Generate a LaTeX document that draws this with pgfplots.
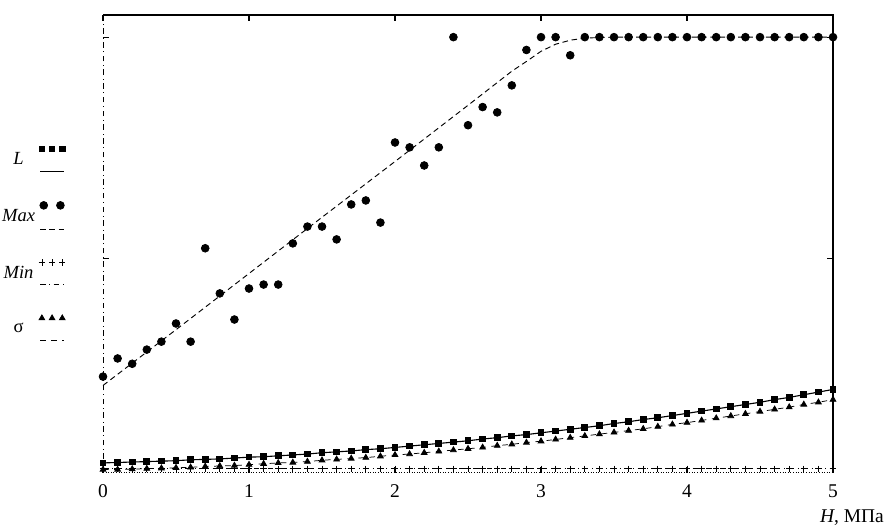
\documentclass[border=0pt]{standalone}
\usepackage{fontspec}
\setmainfont{Liberation Serif}
\usepackage{pgfplots}
\pgfplotsset{compat=1.18}

\pgfplotsset{
  twolegend/.style={legend image code/.code={
      \draw[##1, mark=none] (0pt,-6pt) -- (13pt,-6pt);
      \draw[##1, only marks, mark options={solid}] plot coordinates {(1pt,6pt) (6.5pt,6pt) (12pt,6pt)};
  }},
  maxlegend/.style={legend image code/.code={
      \draw[##1, mark=none] (0pt,-7pt) -- (13pt,-7pt);
      \draw[##1, only marks, mark options={solid}] plot coordinates {(2pt,6pt) (11pt,6pt)};
  }},
}

\begin{document}
\begin{tikzpicture}
\begin{axis}[
    width=394pt, height=247pt,
    scale only axis,
    xmin=0, xmax=5,
    ymin=0.016, ymax=1.05,
    xtick={0,1,2,3,4,5},
    ytick={0.5,1},
    yticklabels={},
    major tick length=3pt,
    tick style={black, line width=0.6pt},
    axis line style={draw=none},
    /pgf/number format/assume math mode=true,
    xticklabel style={font=\fontsize{10.5}{12}\selectfont, yshift=-3pt},
    xlabel={\textit{H}, МПа},
    xlabel style={at={(axis description cs:1,0)}, anchor=north east,
      xshift=28.6pt, yshift=-19pt, inner sep=1pt, font=\fontsize{10.5}{12}\selectfont},
    legend style={draw=none, fill=none, at={(axis description cs:-0.051,0.714)},
      anchor=north east, row sep=16pt, column sep=0pt, font=\fontsize{10}{12}\selectfont,
      legend cell align=center, inner sep=0pt,
      nodes={inner sep=2pt}},
    legend plot pos=right,
    clip=false,
]
% fitted curve through Max
\addplot[black, densely dashed, line width=0.5pt, forget plot] coordinates {
(0,0.213) (0.5,0.339) (1,0.466) (1.5,0.593) (2,0.719) (2.5,0.846)
(2.8,0.923) (2.9,0.945) (3.0,0.968) (3.1,0.984) (3.2,0.993) (3.3,0.998)
(3.5,1.0) (4,1.0) (4.5,1.0) (5,1.0)
};

% L
\addplot[black, line width=0.6pt, mark=square*, mark size=1.5pt, mark options={solid}, twolegend] coordinates {
(0.0,0.038) (0.1,0.039) (0.2,0.040) (0.3,0.041) (0.4,0.042) (0.5,0.043)
(0.6,0.045) (0.7,0.046) (0.8,0.047) (0.9,0.049) (1.0,0.051) (1.1,0.052)
(1.2,0.054) (1.3,0.056) (1.4,0.058) (1.5,0.061) (1.6,0.063) (1.7,0.065)
(1.8,0.068) (1.9,0.070) (2.0,0.073) (2.1,0.076) (2.2,0.079) (2.3,0.082)
(2.4,0.085) (2.5,0.088) (2.6,0.092) (2.7,0.095) (2.8,0.099) (2.9,0.102)
(3.0,0.106) (3.1,0.110) (3.2,0.114) (3.3,0.118) (3.4,0.122) (3.5,0.127)
(3.6,0.131) (3.7,0.136) (3.8,0.140) (3.9,0.145) (4.0,0.150) (4.1,0.155)
(4.2,0.160) (4.3,0.165) (4.4,0.170) (4.5,0.175) (4.6,0.181) (4.7,0.186)
(4.8,0.192) (4.9,0.198) (5.0,0.204)
};
\addlegendentry{\textit{L}}

% Max
\addplot[black, thin, densely dashed, only marks, mark=*, mark size=2.1pt, mark options={solid}, maxlegend] coordinates {
(0.0,0.233) (0.1,0.274) (0.2,0.262) (0.3,0.294) (0.4,0.312) (0.5,0.353)
(0.6,0.312) (0.7,0.523) (0.8,0.421) (0.9,0.362) (1.0,0.432) (1.1,0.441)
(1.2,0.441) (1.3,0.534) (1.4,0.572) (1.5,0.572) (1.6,0.543) (1.7,0.622)
(1.8,0.631) (1.9,0.581) (2.0,0.762) (2.1,0.751) (2.2,0.710) (2.3,0.751)
(2.4,1.000) (2.5,0.801) (2.6,0.842) (2.7,0.830) (2.8,0.891) (2.9,0.971)
(3.0,1.000) (3.1,1.000) (3.2,0.959) (3.3,1.000) (3.4,1.000) (3.5,1.000)
(3.6,1.000) (3.7,1.000) (3.8,1.000) (3.9,1.000) (4.0,1.000) (4.1,1.000)
(4.2,1.000) (4.3,1.000) (4.4,1.000) (4.5,1.000) (4.6,1.000) (4.7,1.000)
(4.8,1.000) (4.9,1.000) (5.0,1.000)
};
\addlegendentry{\textit{Max}}

% Min
\addplot[black, thin, dash dot, mark=+, mark size=1.7pt, mark options={solid}, twolegend] coordinates {
(0.0,0.025) (0.1,0.025) (0.2,0.025) (0.3,0.025) (0.4,0.025) (0.5,0.025)
(0.6,0.025) (0.7,0.025) (0.8,0.025) (0.9,0.025) (1.0,0.025) (1.1,0.025)
(1.2,0.025) (1.3,0.025) (1.4,0.025) (1.5,0.025) (1.6,0.025) (1.7,0.025)
(1.8,0.025) (1.9,0.025) (2.0,0.025) (2.1,0.025) (2.2,0.025) (2.3,0.025)
(2.4,0.025) (2.5,0.025) (2.6,0.025) (2.7,0.025) (2.8,0.025) (2.9,0.025)
(3.0,0.025) (3.1,0.025) (3.2,0.025) (3.3,0.025) (3.4,0.025) (3.5,0.025)
(3.6,0.025) (3.7,0.025) (3.8,0.025) (3.9,0.025) (4.0,0.025) (4.1,0.025)
(4.2,0.025) (4.3,0.025) (4.4,0.025) (4.5,0.025) (4.6,0.025) (4.7,0.025)
(4.8,0.025) (4.9,0.025) (5.0,0.025)
};
\addlegendentry{\textit{Min}}

% sigma
\addplot[black, thin, dashed, mark=triangle*, mark size=1.8pt, mark options={solid}, twolegend] coordinates {
(0.0,0.023) (0.1,0.023) (0.2,0.024) (0.3,0.025) (0.4,0.026) (0.5,0.027)
(0.6,0.028) (0.7,0.030) (0.8,0.031) (0.9,0.032) (1.0,0.034) (1.1,0.036)
(1.2,0.038) (1.3,0.039) (1.4,0.041) (1.5,0.044) (1.6,0.046) (1.7,0.048)
(1.8,0.050) (1.9,0.053) (2.0,0.056) (2.1,0.058) (2.2,0.061) (2.3,0.064)
(2.4,0.067) (2.5,0.070) (2.6,0.073) (2.7,0.077) (2.8,0.080) (2.9,0.084)
(3.0,0.087) (3.1,0.091) (3.2,0.095) (3.3,0.099) (3.4,0.103) (3.5,0.107)
(3.6,0.111) (3.7,0.115) (3.8,0.120) (3.9,0.125) (4.0,0.129) (4.1,0.134)
(4.2,0.139) (4.3,0.144) (4.4,0.149) (4.5,0.154) (4.6,0.159) (4.7,0.164)
(4.8,0.170) (4.9,0.175) (5.0,0.181)
};
\addlegendentry{σ}

% frame: solid top and right, dash-dot left, dotted bottom
\draw[black, line width=0.8pt] (rel axis cs:0,1) -- (rel axis cs:1,1) -- (rel axis cs:1,0);
\draw[black, thin, dash dot] (rel axis cs:0,0) -- (rel axis cs:0,1);
\draw[black, thin, densely dotted] (rel axis cs:0,0) -- (rel axis cs:1,0);
\coordinate (bl) at (rel axis cs:0,0);
\coordinate (tr) at (rel axis cs:1,1);
\end{axis}
\pgfresetboundingbox
\path (bl) ++(-55.6pt,-28.6pt) coordinate (bba);
\path (tr) ++(28.6pt,8.1pt) coordinate (bbb);
\useasboundingbox (bba) rectangle (bbb);
\end{tikzpicture}
\end{document}
